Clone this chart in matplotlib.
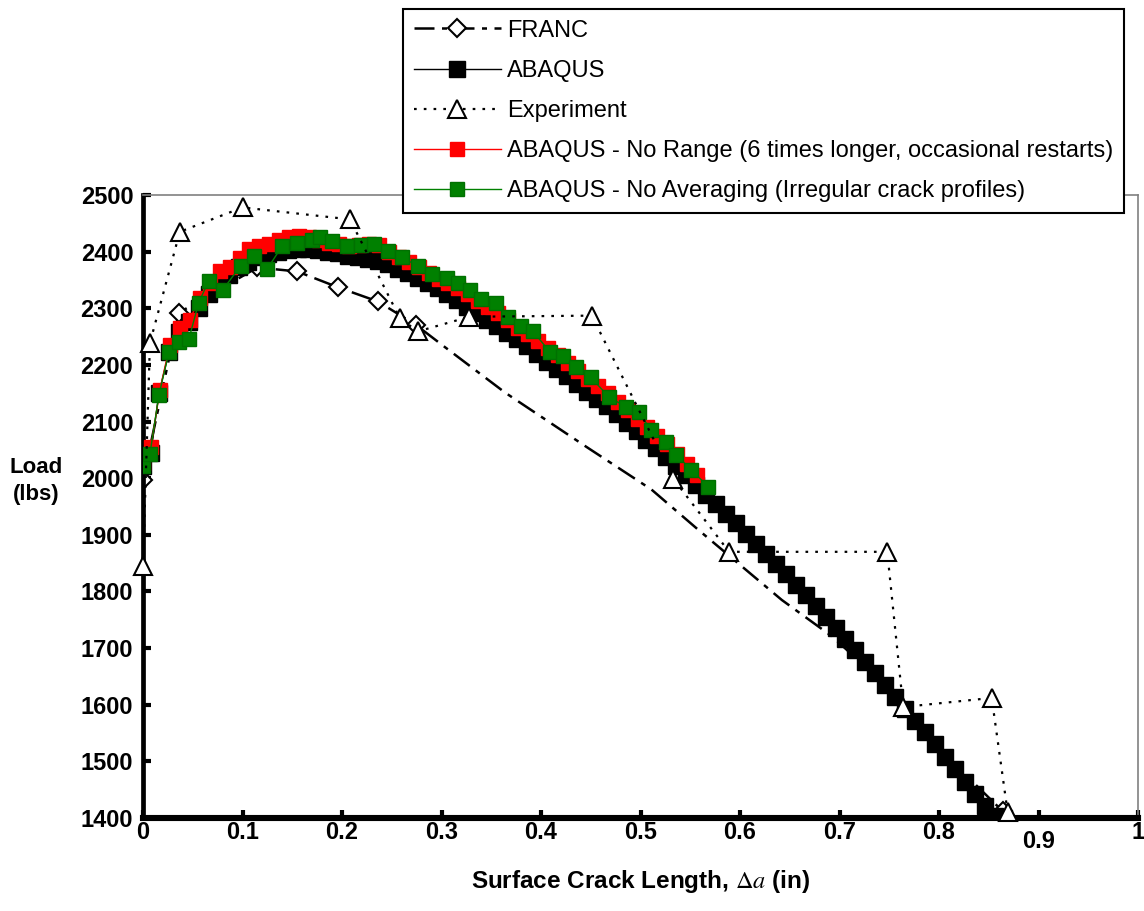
import matplotlib
matplotlib.use("Agg")
import matplotlib.pyplot as plt
from matplotlib.transforms import blended_transform_factory, ScaledTranslation

plt.rcParams['font.family'] = ['Liberation Sans', 'DejaVu Sans']
plt.rcParams['mathtext.fontset'] = 'stix'

# ---------------- data ----------------
franc_x = [0.000, 0.036, 0.115, 0.155, 0.196, 0.236, 0.274, 0.303, 0.364, 0.445,
           0.511, 0.558, 0.642, 0.693, 0.737, 0.800, 0.864]
franc_y = [1997, 2292, 2372, 2365, 2337, 2312, 2271, 2232, 2151, 2056,
           1980, 1909, 1785, 1720, 1649, 1522, 1412]
franc_marker_idx = [0, 1, 2, 3, 4, 5, 6, 16]

abaqus_x = [0.000, 0.008, 0.016, 0.026, 0.036, 0.046, 0.056, 0.066, 0.076, 0.086,
            0.096, 0.106, 0.116, 0.126, 0.136, 0.146, 0.156, 0.166, 0.176, 0.186,
            0.196, 0.206, 0.216, 0.226, 0.236, 0.246, 0.256, 0.266, 0.276, 0.286,
            0.296, 0.306, 0.316, 0.326, 0.336, 0.346, 0.356, 0.366, 0.376, 0.386,
            0.396, 0.406, 0.416, 0.426, 0.436, 0.446, 0.456, 0.466, 0.476, 0.486,
            0.496, 0.506, 0.516, 0.526, 0.536, 0.546, 0.556, 0.566, 0.576, 0.586,
            0.596, 0.606, 0.616, 0.626, 0.636, 0.646, 0.656, 0.666, 0.676, 0.686,
            0.696, 0.706, 0.716, 0.726, 0.736, 0.746, 0.756, 0.766, 0.776, 0.786,
            0.796, 0.806, 0.816, 0.826, 0.836, 0.846, 0.856]
abaqus_y = [2022, 2045, 2150, 2222, 2258, 2275, 2300, 2325, 2345, 2358,
            2372, 2382, 2390, 2395, 2399, 2403, 2405, 2405, 2403, 2400,
            2397, 2393, 2390, 2387, 2383, 2378, 2370, 2362, 2353, 2345,
            2336, 2326, 2315, 2303, 2291, 2280, 2268, 2257, 2246, 2233,
            2220, 2206, 2193, 2180, 2167, 2153, 2140, 2127, 2113, 2098,
            2083, 2068, 2053, 2038, 2022, 2005, 1988, 1971, 1954, 1937,
            1920, 1902, 1884, 1866, 1848, 1830, 1812, 1793, 1774, 1755,
            1736, 1716, 1696, 1676, 1656, 1635, 1614, 1593, 1572, 1551,
            1530, 1508, 1486, 1464, 1443, 1422, 1403]

exp_x = [0.000, 0.007, 0.037, 0.100, 0.208, 0.258, 0.276, 0.328, 0.451, 0.533,
         0.589, 0.748, 0.764, 0.853, 0.869]
exp_y = [1845, 2239, 2435, 2478, 2457, 2283, 2259, 2285, 2287, 1999,
         1870, 1870, 1596, 1612, 1410]

norange_x = [0.000, 0.008, 0.017, 0.027, 0.037, 0.047, 0.057, 0.067, 0.077, 0.087,
             0.097, 0.107, 0.117, 0.127, 0.137, 0.147, 0.157, 0.167, 0.177, 0.187,
             0.197, 0.207, 0.217, 0.227, 0.237, 0.247, 0.257, 0.267, 0.277, 0.287,
             0.297, 0.307, 0.317, 0.327, 0.337, 0.347, 0.357, 0.367, 0.377, 0.387,
             0.397, 0.407, 0.417, 0.427, 0.437, 0.447, 0.457, 0.467, 0.477, 0.487,
             0.497, 0.507, 0.517, 0.527, 0.537, 0.547, 0.557]
norange_y = [2026, 2055, 2156, 2236, 2265, 2280, 2318, 2345, 2365, 2372,
             2388, 2404, 2410, 2414, 2420, 2425, 2427, 2425, 2420, 2416,
             2413, 2410, 2412, 2414, 2411, 2400, 2390, 2382, 2372, 2362,
             2352, 2345, 2335, 2325, 2312, 2302, 2292, 2280, 2266, 2255,
             2243, 2230, 2218, 2204, 2190, 2176, 2163, 2150, 2134, 2120,
             2105, 2090, 2075, 2060, 2043, 2025, 2005]

noavg_x = [0.000, 0.007, 0.016, 0.026, 0.036, 0.046, 0.056, 0.066, 0.080, 0.098,
           0.112, 0.125, 0.140, 0.155, 0.170, 0.178, 0.190, 0.205, 0.219, 0.232,
           0.246, 0.260, 0.276, 0.290, 0.306, 0.317, 0.329, 0.340, 0.355, 0.367,
           0.380, 0.392, 0.409, 0.422, 0.435, 0.450, 0.468, 0.485, 0.498, 0.511,
           0.526, 0.536, 0.551, 0.568]
noavg_y = [2022, 2043, 2147, 2222, 2240, 2245, 2310, 2348, 2332, 2375,
           2392, 2370, 2410, 2416, 2420, 2425, 2418, 2410, 2412, 2414,
           2402, 2390, 2375, 2360, 2354, 2345, 2333, 2316, 2310, 2284,
           2268, 2259, 2223, 2215, 2197, 2178, 2144, 2126, 2116, 2085,
           2064, 2041, 2015, 1985]

x_ticks = [0, 0.1, 0.2, 0.3, 0.4, 0.5, 0.6, 0.7, 0.8, 0.9, 1.0]
x_labels = ['0', '0.1', '0.2', '0.3', '0.4', '0.5', '0.6', '0.7', '0.8', '0.9', '1']
y_ticks = list(range(1400, 2501, 100))

# ---------------- figure ----------------
fig = plt.figure(figsize=(11.44, 9.11), dpi=100)
ax = fig.add_axes([143/1144, 1-818/911, (1138-143)/1144, (818-195)/911])

l_franc, = ax.plot(franc_x, franc_y, color='black', lw=1.8, dashes=(8, 3, 2, 3),
                   marker='D', markevery=franc_marker_idx, ms=9, mfc='white',
                   mec='black', mew=1.5, zorder=1.9, label='FRANC')
l_abq, = ax.plot(abaqus_x, abaqus_y, color='black', lw=1.0, marker='s', ms=11,
                 mfc='black', mec='black', zorder=2, label='ABAQUS')
l_nr, = ax.plot(norange_x, norange_y, color='red', lw=1.0, marker='s', ms=10.5,
                mfc='red', mec='red', zorder=4,
                label='ABAQUS - No Range (6 times longer, occasional restarts)')
l_na, = ax.plot(noavg_x, noavg_y, color='green', lw=1.0, marker='s', ms=10.5,
                mfc='#008000', mec='#007000', zorder=5,
                label='ABAQUS - No Averaging (Irregular crack profiles)')
l_exp, = ax.plot(exp_x, exp_y, color='black', lw=1.6, dashes=(1.2, 3.2),
                 marker='^', ms=12.5, mfc='white', mec='black', mew=1.5,
                 zorder=6, label='Experiment', clip_on=False)

ax.set_xlim(0, 1)
ax.set_ylim(1400, 2500)
ax.set_xticks(x_ticks)
# the 0.9 label sits lower in the reference; drawn separately below
ax.set_xticklabels([t if t != '0.9' else '' for t in x_labels])
ax.set_yticks(y_ticks)
ax.tick_params(direction='in', length=6, width=3, colors='black', labelsize=17)
ax.tick_params(axis='x', pad=2.5)
ax.tick_params(axis='y', pad=7)
for lab in ax.get_xticklabels() + ax.get_yticklabels():
    lab.set_fontweight('bold')
trans09 = blended_transform_factory(ax.transData, ax.transAxes) + \
    ScaledTranslation(0, -0.23, fig.dpi_scale_trans)
ax.text(0.9, 0, x_labels[9], transform=trans09, ha='center', va='center',
        fontsize=17, fontweight='bold')

ax.spines['left'].set_linewidth(3.4)
ax.spines['bottom'].set_linewidth(4.4)
for s in ['top', 'right']:
    ax.spines[s].set_linewidth(1.2)
    ax.spines[s].set_color('#808080')

ax.set_xlabel(r'Surface Crack Length, $\Delta a$ (in)', fontsize=17.5,
              fontweight='bold', labelpad=17)
fig.text(36/1144, 1-481/911, 'Load\n(lbs)', fontsize=16, fontweight='bold',
         ha='center', va='center', linespacing=1.35)

leg = fig.legend(handles=[l_franc, l_abq, l_exp, l_nr, l_na],
                 loc='upper left', bbox_to_anchor=(403/1144, 1 - 9/911),
                 frameon=True, fancybox=False, shadow=False, fontsize=17,
                 handlelength=3.7, handletextpad=0.25, borderpad=0.45,
                 labelspacing=0.77, borderaxespad=0, markerscale=1.0)
leg.get_frame().set_edgecolor('black')
leg.get_frame().set_linewidth(1.5)
leg.get_frame().set_alpha(1)

fig.savefig('out.png', dpi=100, facecolor='white')
